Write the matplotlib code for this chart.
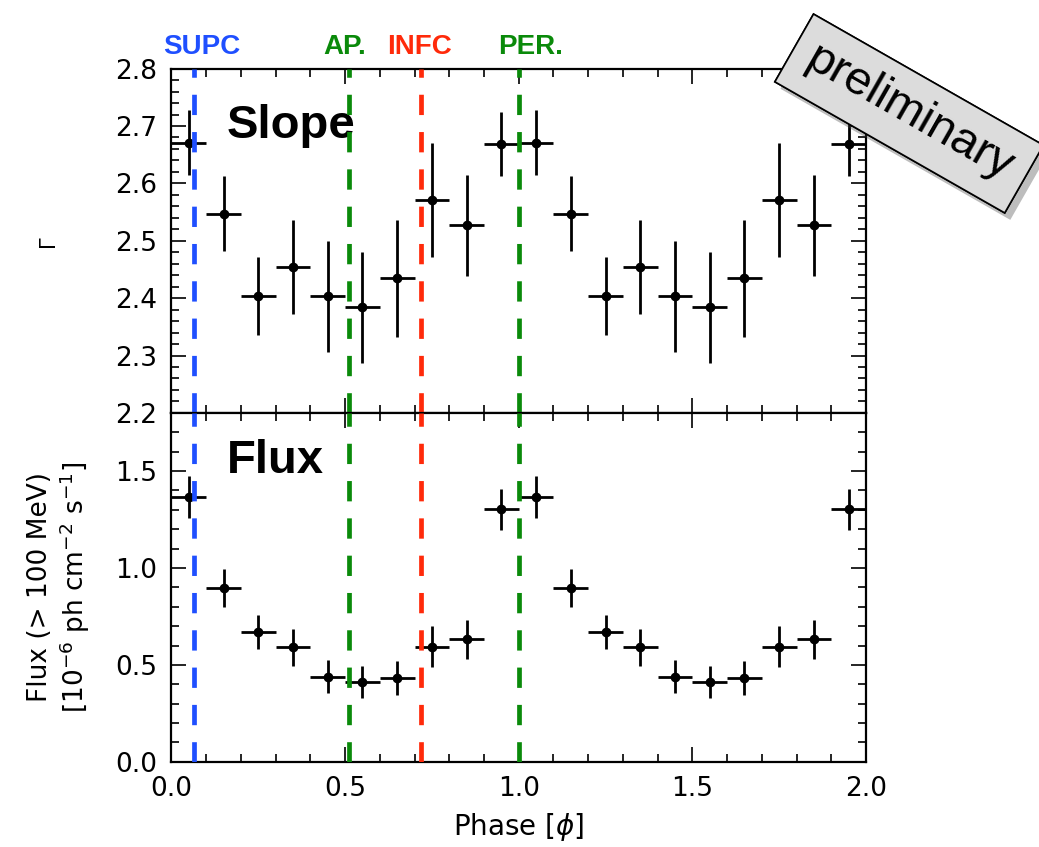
import matplotlib

matplotlib.use("Agg")
import matplotlib.patheffects as pe
import matplotlib.pyplot as plt
import numpy as np
from matplotlib.ticker import MultipleLocator

# orbital phase bins (two cycles shown)
phase = [0.05, 0.15, 0.25, 0.35, 0.45, 0.55, 0.65, 0.75, 0.85, 0.95,
         1.05, 1.15, 1.25, 1.35, 1.45, 1.55, 1.65, 1.75, 1.85, 1.95]
phase_err = [0.05] * 20

slope = [2.671, 2.547, 2.403, 2.454, 2.403, 2.384, 2.435, 2.571, 2.527, 2.668,
         2.671, 2.547, 2.403, 2.454, 2.403, 2.384, 2.435, 2.571, 2.527, 2.668]
slope_err = [0.056, 0.065, 0.068, 0.082, 0.096, 0.097, 0.102, 0.099, 0.088, 0.056,
             0.056, 0.065, 0.068, 0.082, 0.096, 0.097, 0.102, 0.099, 0.088, 0.056]

flux = [1.366, 0.897, 0.672, 0.591, 0.440, 0.412, 0.434, 0.595, 0.633, 1.302,
        1.366, 0.897, 0.672, 0.591, 0.440, 0.412, 0.434, 0.595, 0.633, 1.302]
flux_err = [0.110, 0.098, 0.088, 0.094, 0.087, 0.085, 0.088, 0.105, 0.100, 0.108,
            0.110, 0.098, 0.088, 0.094, 0.087, 0.085, 0.088, 0.105, 0.100, 0.108]

# orbital markers
orb_names = ["SUPC", "AP.", "INFC", "PER."]
orb_phase = [0.065, 0.51, 0.72, 1.0]
orb_label_x = [0.087, 0.498, 0.713, 1.035]
orb_color = ["#1f4fff", "#0a8a0a", "#ff2a0a", "#0a8a0a"]

fig = plt.figure(figsize=(10.39, 8.47), dpi=100)
L, W = 0.165, 0.6685
ax1 = fig.add_axes([L, 0.5125, W, 0.4065])
ax2 = fig.add_axes([L, 0.1005, W, 0.412])


def style(ax):
    ax.set_xlim(0, 2.0)
    ax.xaxis.set_major_locator(MultipleLocator(0.5))
    ax.xaxis.set_minor_locator(MultipleLocator(0.1))
    ax.tick_params(which="both", direction="in", top=True, right=True,
                   width=1.2, labelsize=19, pad=10)
    ax.tick_params(which="major", length=11)
    ax.tick_params(which="minor", length=5.5)
    for s in ax.spines.values():
        s.set_linewidth(1.6)


for ax, y, yerr in [(ax1, slope, slope_err), (ax2, flux, flux_err)]:
    style(ax)
    ax.errorbar(phase, y, xerr=phase_err, yerr=yerr, fmt="o", color="black",
                ms=6, elinewidth=2, capsize=0, zorder=3)
    for xp, c in zip(orb_phase, orb_color):
        ax.axvline(xp, color=c, lw=3.4, dashes=(4.3, 3.6), zorder=4)

ax1.set_ylim(2.2, 2.8)
ax1.set_yticks(np.arange(2.2, 2.81, 0.1))
ax1.set_yticklabels([f"{v:.1f}" for v in np.arange(2.2, 2.81, 0.1)])
ax1.yaxis.set_minor_locator(MultipleLocator(0.02))
ax1.tick_params(axis="x", labelbottom=False)
ax1.set_ylabel("Γ", fontsize=15)
ax1.yaxis.set_label_coords(-0.163, 0.5)

ax2.set_ylim(0, 1.8)
ax2.set_yticks([0.0, 0.5, 1.0, 1.5])
ax2.set_yticklabels(["0.0", "0.5", "1.0", "1.5"])
ax2.yaxis.set_minor_locator(MultipleLocator(0.1))
ax2.set_xticks([0.0, 0.5, 1.0, 1.5, 2.0])
ax2.set_xticklabels(["0.0", "0.5", "1.0", "1.5", "2.0"])
ax2.set_xlabel("Phase [$\\phi$]", fontsize=20, labelpad=7)
ax2.set_ylabel("Flux (> 100 MeV)\n[10$^{-6}$ ph cm$^{-2}$ s$^{-1}$]",
               fontsize=19, linespacing=1.15)
ax2.yaxis.set_label_coords(-0.115, 0.5)

bold = dict(family=["Liberation Sans", "DejaVu Sans"], fontweight="bold")
ax1.text(0.16, 2.7, "Slope", fontsize=34, va="center", ha="left", **bold)
ax2.text(0.16, 1.55, "Flux", fontsize=34, va="center", ha="left", **bold)

for name, xl, c in zip(orb_names, orb_label_x, orb_color):
    ax1.text(xl, 1.0 + 22 / 344, name, transform=ax1.get_xaxis_transform(),
             color=c, fontsize=20, ha="center", va="center", **bold)

# "preliminary" sticker
t = fig.text(0.875, 0.866, "preliminary", fontsize=34, rotation=-29.7,
             rotation_mode="anchor", ha="center", va="center",
             family=["Liberation Sans", "DejaVu Sans"],
             bbox=dict(boxstyle="square,pad=0.36", fc="#dcdcdc", ec="black", lw=1.2))
t.get_bbox_patch().set_path_effects(
    [pe.withSimplePatchShadow(offset=(4, -5), alpha=0.35), pe.Normal()])

fig.savefig("out.png", dpi=100)
